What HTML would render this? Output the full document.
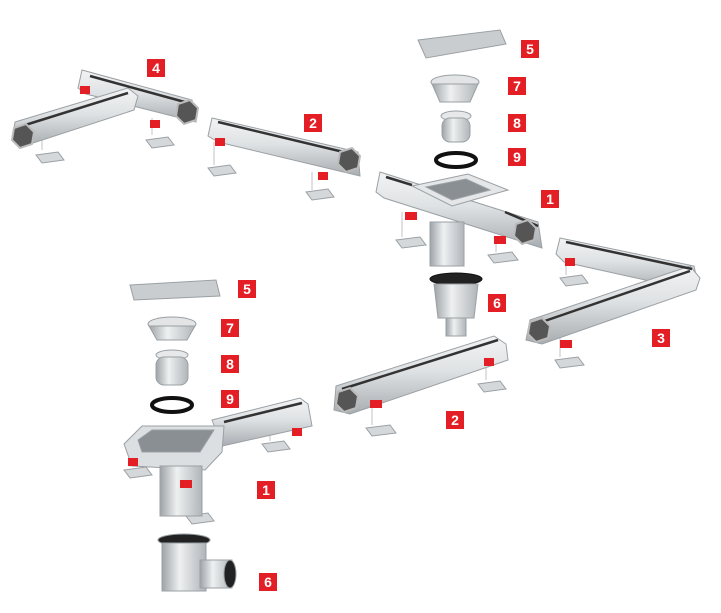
<!DOCTYPE html>
<html><head><meta charset="utf-8"><style>
html,body{margin:0;padding:0;background:#fff}
.l{position:absolute;width:18px;height:18px;background:#e31e24;color:#fff;font:bold 14px/18px "Liberation Sans",sans-serif;text-align:center}
</style></head><body>
<div style="position:relative;width:721px;height:613px;overflow:hidden">
<svg width="721" height="613" style="position:absolute;left:0;top:0">
<defs>
<linearGradient id="m" x1="0" y1="0" x2="0" y2="1"><stop offset="0" stop-color="#f2f3f4"/><stop offset=".45" stop-color="#dfe2e4"/><stop offset="1" stop-color="#a8adb1"/></linearGradient>
<linearGradient id="c" x1="0" y1="0" x2="1" y2="0"><stop offset="0" stop-color="#9ea3a7"/><stop offset=".4" stop-color="#eef0f1"/><stop offset="1" stop-color="#b0b5b9"/></linearGradient>
</defs>
<g stroke="#9aa0a4" stroke-width="1" fill="#d5d8da">
<!-- legs / plates -->
<polygon points="36,155 58,152 64,160 42,163"/><polygon points="146,140 168,137 174,145 152,148"/>
<polygon points="208,168 230,165 236,173 214,176"/><polygon points="306,192 328,189 334,197 312,200"/>
<polygon points="396,240 420,237 426,245 402,248"/><polygon points="488,255 512,252 518,260 494,263"/>
<polygon points="560,278 582,275 588,283 566,286"/><polygon points="555,360 578,357 584,365 560,368"/>
<polygon points="366,428 390,425 396,433 372,436"/><polygon points="478,384 500,381 506,389 484,392"/>
<polygon points="124,470 146,467 152,475 130,478"/><polygon points="262,444 284,441 290,449 268,452"/>
<polygon points="186,516 208,513 214,521 192,524"/>
</g>
<g stroke="#bfc3c6" stroke-width="1" fill="none">
<path d="M42,150 V130 M152,135 V118 M214,165 V142 M312,190 V172 M402,237 V212 M496,252 V236 M566,275 V258 M560,357 V338 M372,425 V404 M486,380 V362 M130,467 V452 M270,441 V424"/>
</g>
<g stroke="#9aa0a4" stroke-width="1" fill="url(#m)">
<!-- 4 -->
<polygon points="82,70 192,100 196,122 86,94 78,88"/>
<polygon points="15,122 128,88 138,96 134,110 24,146 12,140"/>
<!-- 2 top -->
<polygon points="212,118 358,152 360,176 218,142 208,136"/>
<!-- 1 top -->
<polygon points="380,172 538,222 542,248 384,198 376,192"/>
<polygon points="412,186 468,174 508,190 452,206" fill="#e4e6e8"/>
<polygon points="426,187 466,179 490,190 452,200" fill="#8a8f93"/>
<rect x="430" y="222" width="34" height="44" fill="url(#c)"/>
<!-- grate/parts top -->
<polygon points="418,40 500,30 506,44 426,58" fill="#c9cdd0"/>
<ellipse cx="455" cy="82" rx="24" ry="7" fill="#e2e4e6"/>
<path d="M432,84 L440,102 L470,102 L478,84Z" fill="url(#c)"/>
<ellipse cx="456" cy="116" rx="15" ry="5" fill="#e6e8ea"/>
<rect x="442" y="118" width="28" height="24" rx="8" fill="url(#c)"/>
<ellipse cx="456" cy="160" rx="20" ry="7" fill="none" stroke="#111" stroke-width="4"/>
<!-- 6 top -->
<ellipse cx="456" cy="279" rx="26" ry="6" fill="#222" stroke="#111"/>
<path d="M434,284 L438,318 L474,318 L478,284Z" fill="url(#c)"/>
<rect x="446" y="318" width="20" height="18" fill="url(#c)"/>
<!-- 3 -->
<polygon points="560,238 694,266 698,284 690,290 564,262 556,254"/>
<polygon points="530,320 690,266 700,278 696,290 542,344 526,340"/>
<!-- 2 bottom -->
<polygon points="336,386 494,336 506,344 508,360 350,414 334,410"/>
<!-- 1 bottom -->
<polygon points="212,420 300,398 308,404 312,426 222,446"/>
<polygon points="124,444 142,426 224,426 222,452 205,470 132,466" fill="#dcdfe1"/>
<polygon points="138,440 152,430 214,430 200,452 142,452" fill="#8a8f93"/>
<rect x="160" y="466" width="42" height="50" fill="url(#c)"/>
<!-- parts bottom -->
<polygon points="130,285 216,280 220,296 134,300" fill="#c9cdd0"/>
<ellipse cx="172" cy="324" rx="24" ry="7" fill="#e2e4e6"/>
<path d="M149,326 L157,340 L187,340 L195,326Z" fill="url(#c)"/>
<ellipse cx="172" cy="355" rx="16" ry="5" fill="#e6e8ea"/>
<rect x="156" y="357" width="32" height="28" rx="8" fill="url(#c)"/>
<ellipse cx="172" cy="405" rx="20" ry="7" fill="none" stroke="#111" stroke-width="4"/>
<!-- 6 bottom -->
<ellipse cx="184" cy="540" rx="26" ry="6" fill="#222"/>
<rect x="162" y="543" width="44" height="48" fill="url(#c)"/>
<rect x="200" y="560" width="32" height="28" fill="url(#c)"/>
<ellipse cx="230" cy="574" rx="6" ry="14" fill="#222"/>
</g>
<!-- slots -->
<g stroke="#333" stroke-width="2.5" fill="none">
<line x1="90" y1="76" x2="192" y2="104"/><line x1="22" y1="126" x2="128" y2="93"/>
<line x1="218" y1="122" x2="356" y2="155"/><line x1="386" y1="177" x2="412" y2="185"/><line x1="505" y1="212" x2="538" y2="226"/>
<line x1="566" y1="242" x2="692" y2="269"/><line x1="536" y1="324" x2="690" y2="271"/>
<line x1="342" y1="389" x2="498" y2="340"/><line x1="224" y1="422" x2="302" y2="403"/>
</g>
<!-- end holes -->
<g fill="#555" stroke="#bbb" stroke-width="2">
<polygon points="14,128 26,124 34,132 32,144 20,148 12,140"/><polygon points="178,104 190,100 198,108 196,120 184,124 176,116"/>
<polygon points="340,152 352,148 360,156 358,168 346,172 338,164"/><polygon points="516,224 528,220 536,228 534,240 522,244 514,236"/>
<polygon points="530,322 542,318 550,326 548,338 536,342 528,334"/><polygon points="338,392 350,388 358,396 356,408 344,412 336,404"/>
</g>
<g fill="#e31e24">
<rect x="80" y="86" width="10" height="8"/><rect x="150" y="120" width="10" height="8"/>
<rect x="215" y="138" width="10" height="8"/><rect x="318" y="172" width="10" height="8"/>
<rect x="405" y="212" width="12" height="8"/><rect x="494" y="236" width="12" height="8"/>
<rect x="565" y="258" width="10" height="8"/><rect x="560" y="340" width="12" height="8"/>
<rect x="370" y="400" width="12" height="8"/><rect x="484" y="358" width="10" height="8"/>
<rect x="128" y="458" width="10" height="8"/><rect x="180" y="480" width="12" height="8"/><rect x="292" y="428" width="10" height="8"/>
</g>
</svg>
<div class="l" style="left:147px;top:59px">4</div>
<div class="l" style="left:304px;top:114px">2</div>
<div class="l" style="left:521px;top:40px">5</div>
<div class="l" style="left:508px;top:77px">7</div>
<div class="l" style="left:508px;top:114px">8</div>
<div class="l" style="left:508px;top:148px">9</div>
<div class="l" style="left:541px;top:190px">1</div>
<div class="l" style="left:488px;top:294px">6</div>
<div class="l" style="left:652px;top:329px">3</div>
<div class="l" style="left:238px;top:280px">5</div>
<div class="l" style="left:221px;top:319px">7</div>
<div class="l" style="left:221px;top:355px">8</div>
<div class="l" style="left:221px;top:390px">9</div>
<div class="l" style="left:446px;top:411px">2</div>
<div class="l" style="left:257px;top:481px">1</div>
<div class="l" style="left:259px;top:573px">6</div>
</div>
</body></html>
